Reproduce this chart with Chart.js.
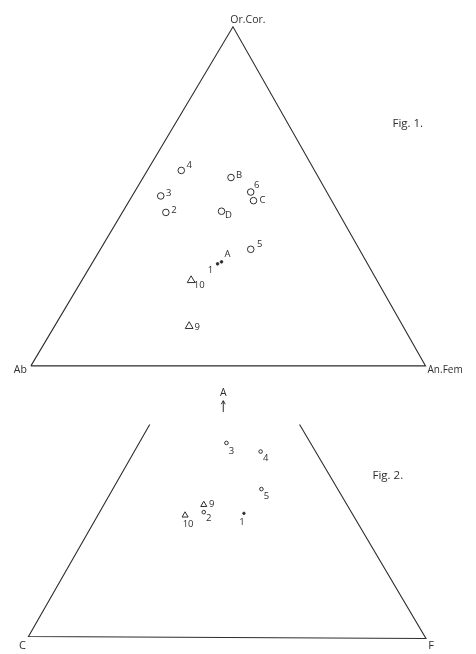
<!DOCTYPE html>
<html>
<head>
<meta charset="utf-8">
<title>Fig. 1 / Fig. 2</title>
<script src="https://cdn.jsdelivr.net/npm/chart.js@4"></script>
<style>
  html, body { margin: 0; padding: 0; background: #fff; }
  #wrap { position: relative; width: 476px; height: 654px; overflow: hidden; }
  canvas { position: absolute; left: 0; }
  #fig1 { top: 0; }
  #fig2 { top: 384px; }
</style>
</head>
<body>
<div id="wrap">
  <canvas id="fig1" width="476" height="384"></canvas>
  <canvas id="fig2" width="476" height="270"></canvas>
</div>
<script>
// Fig. 1 -- Or.Cor. / Ab / An.Fem triangle, x and y in per cent of the base
const fig1Corners = [[0, 0], [51.2, 86.4], [100, 0], [0, 0]];

const fig1CircleNames = ['4', 'B', '3', '6', 'C', '2', 'D', '5'];
const fig1CircleX = [38.1, 50.7, 32.9, 55.7, 56.4, 34.2, 48.3, 55.7];
const fig1CircleY = [49.8, 48.0, 43.3, 44.3, 42.1, 39.1, 39.4, 29.7];

const fig1DotNames = ['1', 'A'];
const fig1DotX = [47.3, 48.3];
const fig1DotY = [26.0, 26.5];

const fig1TriNames = ['10', '9'];
const fig1TriX = [40.6, 40.1];
const fig1TriY = [21.8, 10.1];

// Fig. 2 -- C / F base, sides cut short below the apex A
const fig2Outline = [[30.5, 54.2], [0, 0], [100, -0.5], [68.2, 54.2]];

const fig2CircleNames = ['3', '4', '5', '2'];
const fig2CircleX = [49.8, 58.4, 58.6, 44.1];
const fig2CircleY = [49.5, 47.3, 37.7, 31.8];

const fig2TriNames = ['9', '10'];
const fig2TriX = [44.1, 39.4];
const fig2TriY = [33.7, 31.0];

const fig2DotNames = ['1'];
const fig2DotX = [54.2];
const fig2DotY = [31.5];

const fig2Apex = [49.0, 57.4, 60.3];   // x, arrow foot, arrow tip

// label offsets (px) from each mark
const fig1CircleOffsets = [[8, -5], [8, -2], [8, -3], [6, -7], [9, 0], [8, -2], [7, 4], [9, -5]];
const fig1DotOffsets = [[-7, 6], [6, -8]];
const fig1TriOffsets = [[8, 5], [8, 1]];
const fig2CircleOffsets = [[5, 8], [5, 7], [5, 7], [5, 6]];
const fig2TriOffsets = [[8, 0], [3, 9]];
const fig2DotOffsets = [[-2, 9]];

const INK = '#2e2e2e';
const FONT = '"Open Sans", "DejaVu Sans", sans-serif';

const pts = (xs, ys) => xs.map((x, i) => ({ x: x, y: ys[i] }));
const pairs = arr => arr.map(p => ({ x: p[0], y: p[1] }));

function labelsFor(names, xs, ys, offs, size) {
  return names.map((n, i) => ({
    text: n, x: xs[i], y: ys[i], dx: offs[i][0], dy: offs[i][1],
    align: 'center', font: size + 'px ' + FONT
  }));
}

// draws text and the small arrow in data space
const figText = {
  id: 'figText',
  afterDatasetsDraw(chart, args, opts) {
    const ctx = chart.ctx;
    const sx = chart.scales.x, sy = chart.scales.y;
    ctx.save();
    ctx.fillStyle = INK;
    ctx.strokeStyle = INK;
    ctx.textBaseline = 'middle';
    (opts.items || []).forEach(it => {
      ctx.font = it.font;
      ctx.textAlign = it.align || 'left';
      ctx.fillText(it.text, sx.getPixelForValue(it.x) + (it.dx || 0),
                   sy.getPixelForValue(it.y) + (it.dy || 0));
    });
    (opts.arrows || []).forEach(a => {
      const x = sx.getPixelForValue(a.x);
      const y0 = sy.getPixelForValue(a.from), y1 = sy.getPixelForValue(a.to);
      ctx.lineWidth = 1;
      ctx.beginPath();
      ctx.moveTo(x, y0); ctx.lineTo(x, y1);
      ctx.moveTo(x - 2, y1 + 3.5); ctx.lineTo(x, y1); ctx.lineTo(x + 2, y1 + 3.5);
      ctx.stroke();
    });
    ctx.restore();
  }
};

function outline(data) {
  return { data: pairs(data), showLine: true, pointRadius: 0, borderColor: INK,
           borderWidth: 1.1, tension: 0, fill: false, clip: false };
}
function marks(data, style, r, filled) {
  return { data: data, showLine: false, pointStyle: style, pointRadius: r,
           borderColor: INK, borderWidth: 1, clip: false,
           backgroundColor: filled ? INK : '#fff' };
}

function baseOptions(xr, yr, text) {
  return {
    responsive: false, animation: false, devicePixelRatio: 1, events: [],
    layout: { padding: 0 },
    plugins: { legend: { display: false }, tooltip: { enabled: false }, figText: text },
    scales: {
      x: { type: 'linear', display: false, min: xr[0], max: xr[1] },
      y: { type: 'linear', display: false, min: yr[0], max: yr[1] }
    }
  };
}

new Chart(document.getElementById('fig1'), {
  type: 'scatter',
  data: { datasets: [
    outline(fig1Corners),
    marks(pts(fig1CircleX, fig1CircleY), 'circle', 3.3, false),
    marks(pts(fig1TriX, fig1TriY), 'triangle', 4.5, false),
    marks(pts(fig1DotX, fig1DotY), 'circle', 1.3, true)
  ] },
  options: baseOptions([-6.44, 111.39], [-3.22, 91.83], {
    items: [
      { text: 'Or.Cor.', x: 51.2, y: 86.4, dx: 15, dy: -7, align: 'center', font: '10.5px ' + FONT },
      { text: 'Ab', x: 0, y: 0, dx: -4, dy: 4, align: 'right', font: '10.5px ' + FONT },
      { text: 'An.Fem', x: 100, y: 0, dx: 2, dy: 4, align: 'left', font: '10px ' + FONT },
      { text: 'Fig. 1.', x: 95.5, y: 61.6, align: 'center', font: '11.5px ' + FONT }
    ].concat(
      labelsFor(fig1CircleNames, fig1CircleX, fig1CircleY, fig1CircleOffsets, 9.5),
      labelsFor(fig1DotNames, fig1DotX, fig1DotY, fig1DotOffsets, 9.5),
      labelsFor(fig1TriNames, fig1TriX, fig1TriY, fig1TriOffsets, 9.5)
    )
  }),
  plugins: [figText]
});

new Chart(document.getElementById('fig2'), {
  type: 'scatter',
  data: { datasets: [
    outline(fig2Outline),
    marks(pts(fig2CircleX, fig2CircleY), 'circle', 1.8, false),
    marks(pts(fig2TriX, fig2TriY), 'triangle', 3.5, false),
    marks(pts(fig2DotX, fig2DotY), 'circle', 1.2, true)
  ] },
  options: baseOptions([-5.91, 111.33], [-3.2, 63.3], {
    items: [
      { text: 'A', x: fig2Apex[0], y: fig2Apex[2], dy: -8, align: 'center', font: '10.5px ' + FONT },
      { text: 'C', x: 0, y: 0, dx: -6, dy: 9, align: 'center', font: '11px ' + FONT },
      { text: 'F', x: 100, y: -0.5, dx: 5, dy: 7, align: 'center', font: '11px ' + FONT },
      { text: 'Fig. 2.', x: 90.4, y: 41.1, align: 'center', font: '11.5px ' + FONT }
    ].concat(
      labelsFor(fig2CircleNames, fig2CircleX, fig2CircleY, fig2CircleOffsets, 9.5),
      labelsFor(fig2TriNames, fig2TriX, fig2TriY, fig2TriOffsets, 9.5),
      labelsFor(fig2DotNames, fig2DotX, fig2DotY, fig2DotOffsets, 9.5)
    ),
    arrows: [{ x: fig2Apex[0], from: fig2Apex[1], to: fig2Apex[2] }]
  }),
  plugins: [figText]
});
</script>
</body>
</html>
